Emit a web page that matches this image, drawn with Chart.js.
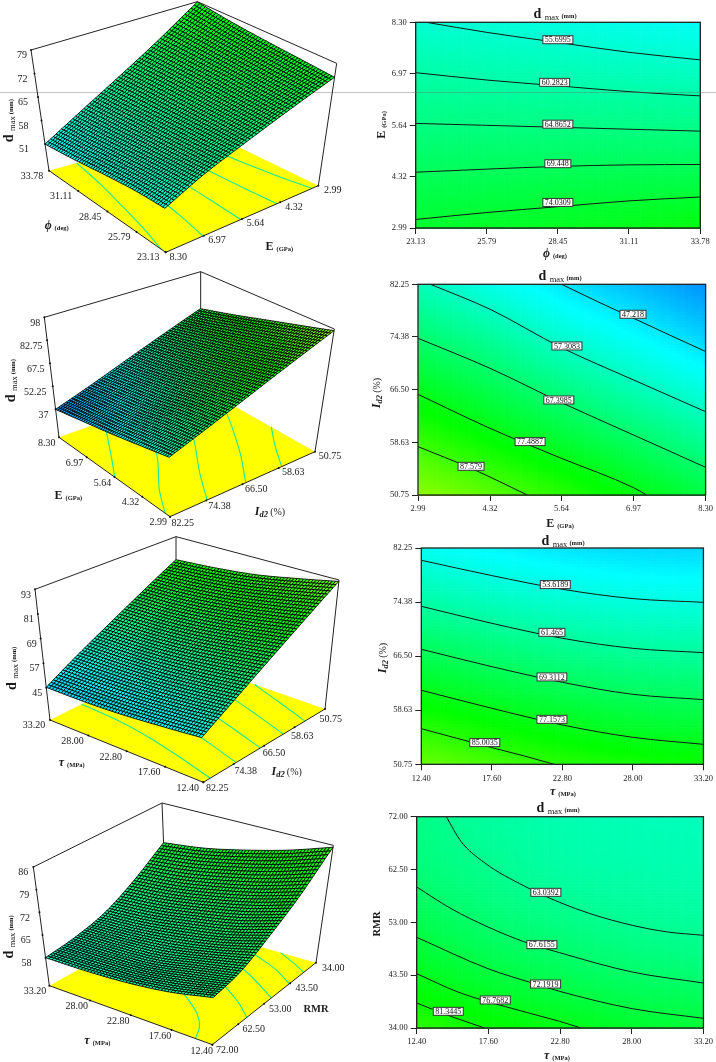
<!DOCTYPE html>
<html>
<head>
<meta charset="utf-8">
<script src="https://cdn.jsdelivr.net/npm/chart.js@4/dist/chart.umd.min.js"></script>
<style>
  body { margin: 0; background: #fff; }
  #page { position: relative; width: 716px; height: 1062px; overflow: hidden; }
  canvas { position: absolute; filter: blur(0.35px); }
  .rule { position: absolute; top: 92px; height: 1px; background: rgba(110,110,110,.42); }
</style>
</head>
<body>
<div id="page">
  <div class="rule" style="left:0;width:358px"></div>
  <canvas id="s1" width="358" height="265" style="left:0;top:0"></canvas>
  <canvas id="c1" width="358" height="265" style="left:358px;top:0"></canvas>
  <canvas id="s2" width="358" height="265" style="left:0;top:265px"></canvas>
  <canvas id="c2" width="358" height="265" style="left:358px;top:265px"></canvas>
  <canvas id="s3" width="358" height="270" style="left:0;top:530px"></canvas>
  <canvas id="c3" width="358" height="270" style="left:358px;top:530px"></canvas>
  <canvas id="s4" width="358" height="270" style="left:0;top:792px"></canvas>
  <canvas id="c4" width="358" height="270" style="left:358px;top:792px"></canvas>
  <div class="rule" style="left:358px;width:358px"></div>
</div>
<script>
// axis ticks
const phiTicks = [23.13, 25.79, 28.45, 31.11, 33.78];
const eTicks = [2.99, 4.32, 5.64, 6.97, 8.30];
const idTicks = [50.75, 58.63, 66.50, 74.38, 82.25];
const tauTicks = [12.40, 17.60, 22.80, 28.00, 33.20];
const rmrTicks = [34.00, 43.50, 53.00, 62.50, 72.00];

const zTicks1 = ['51', '58', '65', '72', '79'];
const zTicks2 = ['37', '52.25', '67.5', '82.75', '98'];
const zTicks3 = ['45', '57', '69', '81', '93'];
const zTicks4 = ['58', '65', '72', '79', '86'];

// d max read at the tick crossings, one row per y tick (low to high), one column per x tick
const grid1 = [
  [74.9, 75.7, 76.5, 77.5, 78.9],
  [69.85, 70.2, 70.6, 70.9, 71.1],
  [65.0, 64.87, 64.65, 64.4, 64.1],
  [60.4, 59.7, 59.0, 58.2, 57.5],
  [55.1, 54.7, 53.6, 52.2, 51.0]
];
const grid2 = [
  [96.9, 91.0, 84.9, 78.5, 72.4],
  [86.7, 80.4, 74.6, 68.8, 62.9],
  [76.65, 71.0, 65.0, 59.1, 53.6],
  [67.1, 62.0, 55.6, 50.3, 44.8],
  [58.3, 52.7, 47.2, 42.1, 37.0]
];
const grid3 = [
  [92.3, 88.3, 84.6, 82.3, 80.8],
  [81.1, 77.5, 74.4, 72.2, 71.15],
  [70.55, 67.4, 64.65, 62.8, 62.05],
  [60.7, 57.97, 55.7, 54.2, 53.6],
  [51.5, 49.1, 47.0, 45.7, 45.2]
];
const grid4 = [
  [85.4, 81.2, 77.9, 75.2, 73.6],
  [77.0, 73.1, 70.2, 68.0, 66.8],
  [70.9, 67.1, 64.7, 62.8, 61.8],
  [66.2, 63.5, 60.9, 59.9, 59.3],
  [64.4, 61.3, 59.4, 58.4, 58.0]
];

// contour levels and their lines
const levels1 = ['55.6995', '60.2823', '64.8652', '69.448', '74.0309'];
const lines1 = [
  [[23.53, 8.30], [25.79, 8.04], [28.45, 7.78], [31.11, 7.525], [33.78, 7.33]],
  [[23.13, 7.00], [25.79, 6.81], [28.45, 6.66], [31.11, 6.51], [33.78, 6.40]],
  [[23.13, 5.69], [25.79, 5.64], [28.45, 5.59], [31.11, 5.54], [33.78, 5.49]],
  [[23.13, 4.43], [25.79, 4.51], [28.45, 4.58], [31.11, 4.62], [33.78, 4.63]],
  [[23.13, 3.21], [25.79, 3.39], [28.45, 3.54], [31.11, 3.69], [33.78, 3.79]]
];
const tags1 = [[28.45, 7.85], [28.33, 6.75], [28.45, 5.67], [28.45, 4.65], [28.45, 3.65]];

const levels2 = ['47.218', '57.3083', '67.3985', '77.4887', '87.579'];
const lines2 = [
  [[5.64, 82.25], [6.31, 79.65], [6.97, 77.17], [7.64, 74.65], [8.30, 72.2]],
  [[3.22, 82.25], [4.32, 78.52], [5.64, 72.78], [6.97, 67.95], [8.30, 63.21]],
  [[2.99, 74.18], [4.32, 69.69], [5.64, 64.56], [6.97, 59.72], [8.30, 54.89]],
  [[2.99, 65.80], [4.32, 60.72], [5.64, 56.23], [6.97, 51.85], [7.21, 50.75]],
  [[2.99, 57.98], [3.97, 54.74], [5.01, 50.75]]
];
const tags2 = [[6.96, 77.77], [5.74, 73.03], [5.59, 64.96], [5.06, 58.73], [3.97, 55.04]];

const levels3 = ['53.6189', '61.465', '69.3112', '77.1573', '85.0035'];
const lines3 = [
  [[12.4, 80.46], [17.6, 78.23], [22.8, 76.24], [28.0, 74.88], [33.2, 74.34]],
  [[12.4, 73.76], [17.6, 71.28], [22.8, 69.10], [28.0, 67.64], [33.2, 67.01]],
  [[12.4, 67.50], [17.6, 64.97], [22.8, 62.69], [28.0, 60.94], [33.2, 60.17]],
  [[12.4, 61.53], [17.6, 58.91], [22.8, 56.48], [28.0, 54.68], [33.2, 53.66]],
  [[12.4, 55.94], [17.6, 53.18], [20.0, 51.96], [22.2, 50.75]]
];
const tags3 = [[22.28, 76.92], [22.03, 69.97], [22.03, 63.47], [22.03, 57.30], [17.08, 53.91]];

const levels4 = ['63.0392', '67.6155', '72.1919', '76.7682', '81.3445'];
const lines4 = [
  [[14.55, 72], [15.6, 67.6], [17.33, 63.7], [20.23, 59.5], [22.76, 56.6], [25.06, 54.5], [28.03, 52.47], [30.6, 51.27], [33.2, 50.67]],
  [[12.4, 59.36], [14.9, 55.46], [17.57, 52.17], [20.23, 49.47], [22.76, 47.55], [28.03, 44.07], [33.2, 42.09]],
  [[12.4, 50.31], [17.57, 44.67], [20.95, 41.97], [22.76, 40.6], [28.03, 37.48], [33.2, 35.74]],
  [[12.4, 43.77], [15.4, 40.47], [18.05, 38.38], [22.76, 35.2], [24.33, 34]],
  [[12.4, 38.5], [14.67, 36.28], [17.33, 34]]
];
const tags4 = [[21.77, 58.4], [21.48, 48.99], [21.75, 41.91], [18.1, 39.04], [14.69, 37.0]];

// text helpers, labels here have mixed sizes so they are drawn run by run
const SERIF = '"Liberation Serif"';
function runs(ctx, cx, cy, parts, vertical) {
  ctx.save();
  ctx.translate(cx, cy);
  if (vertical) ctx.rotate(-Math.PI / 2);
  ctx.textAlign = 'left';
  ctx.textBaseline = 'alphabetic';
  ctx.fillStyle = '#1a1a1a';
  let total = 0;
  parts.forEach(p => { ctx.font = p[1] + ' ' + SERIF; total += ctx.measureText(p[0]).width; });
  let x = -total / 2;
  parts.forEach(p => {
    ctx.font = p[1] + ' ' + SERIF;
    ctx.fillText(p[0], x, 4 + (p[2] || 0));
    x += ctx.measureText(p[0]).width;
  });
  ctx.restore();
}
const dmaxText = [['d ', 'bold 14px'], ['max ', '8.5px', 2], ['(mm)', 'bold 6.5px']];
const eText = [['E ', 'bold 12px'], ['(GPa)', 'bold 6.5px', 1]];
const phiText = [['\u03D5 ', 'italic bold 12px'], ['(deg)', 'bold 6.5px', 1]];
const tauText = [['\u03C4 ', 'italic bold 12px'], ['(MPa)', 'bold 6.5px', 1]];
const idText = [['I', 'italic bold 12px'], ['d2 ', 'italic bold 8.5px', 2], ['(%)', '10px']];
const rmrText = [['RMR', 'bold 10.5px']];

// colour runs with d max over the whole figure: blue, cyan, green, yellow
function zColor(z) {
  const c = v => Math.round(Math.max(0, Math.min(255, v)));
  if (z < 50) return 'rgb(0,' + c((z - 20) * 8.5) + ',255)';
  if (z < 80) return 'rgb(0,255,' + c((80 - z) * 8.5) + ')';
  return 'rgb(' + c((z - 80) * 8.5) + ',255,0)';
}

// smooth reading between the grid nodes, only for painting
function cr(a, b, c, d, t) {
  return 0.5 * (2 * b + (c - a) * t + (2 * a - 5 * b + 4 * c - d) * t * t + (3 * b - a - 3 * c + d) * t * t * t);
}
function pick(list, f) {
  const n = list.length - 1;
  const i = Math.min(n - 1, Math.floor(f * n));
  const g = k => k < 0 ? 2 * list[0] - list[1] : k > n ? 2 * list[n] - list[n - 1] : list[k];
  return cr(g(i - 1), g(i), g(i + 1), g(i + 2), f * n - i);
}
function gridValue(grid, fx, fy) {
  return pick(grid.map(row => pick(row, fx)), fy);
}
function pos(ticks, v) {
  return (v - ticks[0]) / (ticks[ticks.length - 1] - ticks[0]);
}

function contourChart(id, p) {
  const last = a => a[a.length - 1];
  const canvas = document.getElementById(id);
  const yw = 40, xh = 22;
  const tickStyle = {
    color: '#222', font: { family: SERIF, size: 8.5 }, autoSkip: false, maxRotation: 0,
    callback: v => v.toFixed(2)
  };
  const axis = (ticks, fit) => ({
    type: 'linear',
    min: ticks[0],
    max: last(ticks),
    afterBuildTicks: s => { s.ticks = ticks.map(value => ({ value })); },
    afterFit: fit,
    ticks: Object.assign({ padding: 3 }, tickStyle),
    grid: { drawOnChartArea: false, color: '#222', tickLength: 6 },
    border: { color: '#222', width: 1 }
  });
  new Chart(canvas, {
    type: 'scatter',
    data: {
      datasets: p.lines.map((line, i) => ({
        label: p.levels[i],
        data: line.map(q => ({ x: q[0], y: q[1] })),
        showLine: true,
        cubicInterpolationMode: 'monotone',
        borderColor: '#101a14',
        borderWidth: 1,
        pointRadius: 0
      }))
    },
    options: {
      responsive: false,
      animation: false,
      layout: { padding: { left: p.area[0] - yw, top: p.area[1], right: canvas.width - p.area[2], bottom: canvas.height - p.area[3] - xh } },
      scales: {
        x: axis(p.xTicks, s => { s.height = xh; }),
        y: axis(p.yTicks, s => { s.width = yw; })
      },
      plugins: { legend: { display: false }, tooltip: { enabled: false } }
    },
    plugins: [{
      id: 'field',
      beforeDatasetsDraw(chart) {
        const ctx = chart.ctx, x = chart.scales.x, y = chart.scales.y;
        const nx = 90, ny = 70;
        for (let i = 0; i < nx; i++) {
          for (let j = 0; j < ny; j++) {
            const xa = p.xTicks[0] + (last(p.xTicks) - p.xTicks[0]) * i / nx;
            const xb = p.xTicks[0] + (last(p.xTicks) - p.xTicks[0]) * (i + 1) / nx;
            const ya = p.yTicks[0] + (last(p.yTicks) - p.yTicks[0]) * j / ny;
            const yb = p.yTicks[0] + (last(p.yTicks) - p.yTicks[0]) * (j + 1) / ny;
            ctx.fillStyle = zColor(gridValue(p.grid, (i + 0.5) / nx, (j + 0.5) / ny));
            const left = x.getPixelForValue(xa), top = y.getPixelForValue(yb);
            ctx.fillRect(left, top, x.getPixelForValue(xb) - left + 0.6, y.getPixelForValue(ya) - top + 0.6);
          }
        }
      },
      afterDatasetsDraw(chart) {
        const ctx = chart.ctx, x = chart.scales.x, y = chart.scales.y, a = chart.chartArea;
        ctx.strokeStyle = '#222';
        ctx.lineWidth = 1.3;
        ctx.strokeRect(a.left, a.top, a.right - a.left, a.bottom - a.top);
        ctx.lineWidth = 1;
        ctx.font = '8px ' + SERIF;
        ctx.textAlign = 'center';
        ctx.textBaseline = 'middle';
        p.tags.forEach((t, i) => {
          const px = x.getPixelForValue(t[0]), py = y.getPixelForValue(t[1]);
          const w = ctx.measureText(p.levels[i]).width + 4;
          ctx.fillStyle = '#fff';
          ctx.fillRect(px - w / 2, py - 4, w, 8);
          ctx.strokeStyle = '#333';
          ctx.strokeRect(px - w / 2, py - 4, w, 8);
          ctx.fillStyle = '#111';
          ctx.fillText(p.levels[i], px, py + 0.5);
        });
        runs(ctx, p.title[0], p.title[1], dmaxText);
        runs(ctx, p.xTitle[0], p.xTitle[1], p.xText);
        runs(ctx, p.yTitle[0], p.yTitle[1], p.yText, true);
      }
    }]
  });
}

function surfaceChart(id, p) {
  const canvas = document.getElementById(id);
  const mix = (a, b, t) => [a[0] + (b[0] - a[0]) * t, a[1] + (b[1] - a[1]) * t];
  const b = p.box;
  const zLow = parseFloat(p.zTicks[0]), zHigh = parseFloat(p.zTicks[p.zTicks.length - 1]);
  const wOf = z => p.zFloor + (1 - p.zFloor) * (z - zLow) / (zHigh - zLow);

  // s runs L to F along the first floor edge, t runs F to R along the second, w is height
  function corner(s, t, layer) {
    const far = mix(layer[0], layer[3], t), near = mix(layer[1], layer[2], t);
    return mix(far, near, s);
  }
  function project(s, t, w) {
    const q = mix(corner(s, t, b.floor), corner(s, t, b.top), w);
    return { x: q[0] / 3, y: q[1] / 3 };
  }
  const floorAt = q => project(1 - pos(p.xTicks, q[0]), 1 - pos(p.yTicks, q[1]), 0);

  const line = (data, color, width, extra) => Object.assign({
    data, showLine: true, borderColor: color, borderWidth: width, pointRadius: 0, tension: 0
  }, extra || {});

  const datasets = [
    line([project(0, 0, 0), project(1, 0, 0), project(1, 1, 0)], '#222', 1),
    ...p.lines.map(l => line(l.map(floorAt), '#19e8a0', 1.1, { tension: 0.3 })),
    line([project(0, 0, 0), project(1, 0, 0), project(1, 1, 0), project(0, 1, 0), project(0, 0, 0)], '#ffff00', 0, { fill: 'shape', backgroundColor: '#ffff00' }),
    line([project(0, 0, 0), project(0, 0, 1)], '#222', 1),
    line([project(1, 1, 0), project(1, 1, 1)], '#222', 1),
    line([project(0, 1, 0), project(0, 1, 1)], '#222', 1),
    line([project(0, 0, 1), project(0, 1, 1), project(1, 1, 1)], '#222', 1)
  ];

  new Chart(canvas, {
    type: 'scatter',
    data: { datasets },
    options: {
      responsive: false,
      animation: false,
      layout: { padding: 0 },
      scales: {
        x: { type: 'linear', display: false, min: 0, max: canvas.width },
        y: { type: 'linear', display: false, min: 0, max: canvas.height, reverse: true }
      },
      plugins: { legend: { display: false }, tooltip: { enabled: false } }
    },
    plugins: [{
      id: 'surface',
      afterDatasetsDraw(chart) {
        const ctx = chart.ctx, x = chart.scales.x, y = chart.scales.y;
        const n = 52;
        const node = (i, j) => {
          const z = gridValue(p.grid, 1 - i / n, 1 - j / n);
          const q = project(i / n, j / n, wOf(z));
          return { px: x.getPixelForValue(q.x), py: y.getPixelForValue(q.y), z };
        };
        const nodes = [];
        for (let i = 0; i <= n; i++) {
          nodes.push([]);
          for (let j = 0; j <= n; j++) nodes[i].push(node(i, j));
        }
        ctx.lineWidth = 1;
        ctx.strokeStyle = 'rgba(0,0,0,0.85)';
        for (let i = 0; i < n; i++) {
          for (let j = n - 1; j >= 0; j--) {
            const q = [nodes[i][j], nodes[i + 1][j], nodes[i + 1][j + 1], nodes[i][j + 1]];
            ctx.beginPath();
            q.forEach((c, k) => k ? ctx.lineTo(c.px, c.py) : ctx.moveTo(c.px, c.py));
            ctx.closePath();
            ctx.fillStyle = zColor((q[0].z + q[1].z + q[2].z + q[3].z) / 4);
            ctx.fill();
            ctx.stroke();
          }
        }

        // tick marks and numbers around the box
        ctx.fillStyle = '#111';
        const dot = q => {
          ctx.beginPath();
          ctx.arc(x.getPixelForValue(q.x), y.getPixelForValue(q.y), 1, 0, Math.PI * 2);
          ctx.fill();
        };
        ctx.font = '10px ' + SERIF;
        ctx.textBaseline = 'middle';
        p.zTicks.forEach((label, i) => {
          const f = i / (p.zTicks.length - 1);
          const q = project(0, 0, wOf(parseFloat(label)));
          dot(q);
          ctx.fillStyle = '#1a1a1a';
          ctx.textAlign = 'right';
          ctx.fillText(label, q.x + p.zGap[0] + (p.zGap[1] - p.zGap[0]) * f, q.y + 5.7);
          ctx.fillStyle = '#111';
        });
        ctx.textAlign = 'center';
        p.xTicks.slice().reverse().forEach((v, i) => {
          const f = i / (p.xTicks.length - 1);
          const q = project(f, 0, 0);
          dot(q);
          const o = mix(p.aOff[0], p.aOff[1], f);
          ctx.fillStyle = '#1a1a1a';
          ctx.fillText(v.toFixed(2), q.x + o[0] / 3, q.y + o[1] / 3);
          ctx.fillStyle = '#111';
        });
        p.yTicks.slice().reverse().forEach((v, i) => {
          const f = i / (p.yTicks.length - 1);
          const q = project(1, f, 0);
          dot(q);
          const o = mix(p.bOff[0], p.bOff[1], f);
          ctx.fillStyle = '#1a1a1a';
          ctx.fillText(v.toFixed(2), q.x + o[0] / 3, q.y + o[1] / 3);
          ctx.fillStyle = '#111';
        });
        runs(ctx, p.zTitle[0] / 3, p.zTitle[1] / 3, dmaxText, true);
        runs(ctx, p.aTitle[0] / 3, p.aTitle[1] / 3, p.xText);
        runs(ctx, p.bTitle[0] / 3, p.bTitle[1] / 3, p.yText);
      }
    }]
  });
}

// right column
contourChart('c1', { xTicks: phiTicks, yTicks: eTicks, grid: grid1, lines: lines1, levels: levels1, tags: tags1,
  area: [57.7, 22.3, 342.3, 228], title: [197, 14], xTitle: [197, 253], yTitle: [23, 125], xText: phiText, yText: eText });
contourChart('c2', { xTicks: eTicks, yTicks: idTicks, grid: grid2, lines: lines2, levels: levels2, tags: tags2,
  area: [60, 19.3, 347.7, 230], title: [202, 11], xTitle: [202, 258], yTitle: [18, 128], xText: eText, yText: idText });
contourChart('c3', { xTicks: tauTicks, yTicks: idTicks, grid: grid3, lines: lines3, levels: levels3, tags: tags3,
  area: [63.3, 18, 346.3, 234.3], title: [205, 11], xTitle: [205, 260.5], yTitle: [24, 128], xText: tauText, yText: idText });
contourChart('c4', { xTicks: tauTicks, yTicks: rmrTicks, grid: grid4, lines: lines4, levels: levels4, tags: tags4,
  area: [58.7, 24.7, 345.7, 236], title: [200, 16], xTitle: [199, 263], yTitle: [18, 132], xText: tauText, yText: rmrText });

// left column, box corners measured on 3x crops in the order L, F, R, B
surfaceChart('s1', { xTicks: phiTicks, yTicks: eTicks, grid: grid1, lines: lines1, zTicks: zTicks1, zFloor: 0.22,
  box: { floor: [[147, 512], [497, 757], [955, 557], [600, 385]], top: [[93, 150], [490, 362], [1010, 190], [592, 5]] },
  zGap: [-16, -4], aOff: [[-51, 17], [-52, 16]], bOff: [[38, 16], [43, 13]],
  zTitle: [27, 362], aTitle: [170, 675], bTitle: [838, 737], xText: phiText, yText: eText });
surfaceChart('s2', { xTicks: eTicks, yTicks: idTicks, grid: grid2, lines: lines2, zTicks: zTicks2, zFloor: 0.233,
  box: { floor: [[177, 517], [510, 755], [945, 560], [600, 365]], top: [[133, 157], [505, 399], [1003, 192], [602, 20]] },
  zGap: [-7, -4], aOff: [[-37, 18], [-35, 18]], bOff: [[38, 20], [45, 13]],
  zTitle: [32, 347], aTitle: [205, 690], bTitle: [810, 738], xText: eText, yText: idText });
surfaceChart('s3', { xTicks: tauTicks, yTicks: idTicks, grid: grid3, lines: lines3, zTicks: zTicks3, zFloor: 0.247,
  box: { floor: [[150, 570], [610, 757], [975, 537], [528, 381]], top: [[105, 178], [596, 373], [1017, 150], [528, 20]] },
  zGap: [-4, -4], aOff: [[-48, 17], [-47, 18]], bOff: [[42, 18], [17, 31]],
  zTitle: [35, 415], aTitle: [215, 695], bTitle: [860, 722], xText: tauText, yText: idText });
surfaceChart('s4', { xTicks: tauTicks, yTicks: rmrTicks, grid: grid4, lines: lines4, zTicks: zTicks4, zFloor: 0.236,
  box: { floor: [[148, 581], [637, 758], [948, 512], [500, 385]], top: [[100, 225], [644, 414], [1000, 160], [486, 33]] },
  zGap: [-14, -5], aOff: [[-43, 17], [-32, 19]], bOff: [[45, 17], [52, 16]],
  zTitle: [28, 435], aTitle: [292, 743], bTitle: [948, 647], xText: tauText, yText: rmrText });
</script>
</body>
</html>
